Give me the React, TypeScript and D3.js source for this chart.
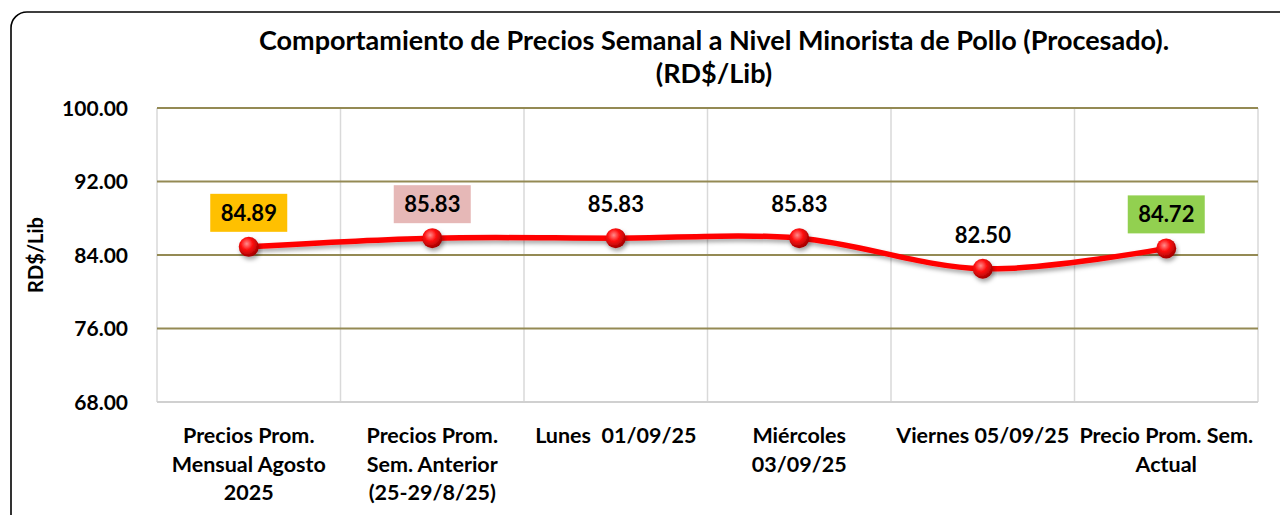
import { useEffect, useRef } from 'react';
import * as d3 from 'd3';

// Chart data
const CATEGORIES: string[][] = [
  ['Precios Prom.', 'Mensual Agosto', '2025'],
  ['Precios Prom.', 'Sem. Anterior', '(25-29/8/25)'],
  ['Lunes  01/09/25'],
  ['Miércoles', '03/09/25'],
  ['Viernes 05/09/25'],
  ['Precio Prom. Sem.', 'Actual'],
];
const PRICES = [84.89, 85.83, 85.83, 85.83, 82.5, 84.72];
const LABEL_FILLS: (string | null)[] = ['#FFC000', '#E6B8B7', null, null, null, '#92D050'];
const Y_TICKS = [68, 76, 84, 92, 100];
const TITLE_LINES = [
  'Comportamiento de Precios Semanal a Nivel Minorista de Pollo (Procesado).',
  '(RD$/Lib)',
];
const Y_TITLE = 'RD$/Lib';

const WIDTH = 1280;
const HEIGHT = 515;
const PLOT = { left: 157, right: 1258, top: 108, bottom: 402 } as const;
const FONT = 'Lato, "Open Sans", Arial, sans-serif';

export default function App() {
  const svgRef = useRef<SVGSVGElement | null>(null);

  useEffect(() => {
    const svgEl = svgRef.current;
    if (!svgEl) return;
    const svg = d3.select(svgEl);
    svg.selectAll('*').remove();

    const xScale = d3
      .scaleBand<number>()
      .domain(d3.range(CATEGORIES.length))
      .range([PLOT.left, PLOT.right]);
    const yScale = d3.scaleLinear().domain([68, 100]).range([PLOT.bottom, PLOT.top]);
    const cx = (i: number) => (xScale(i) ?? 0) + xScale.bandwidth() / 2;

    // ---- defs: marker gradient + shadow ---------------------------------
    const defs = svg.append('defs');
    const grad = defs
      .append('radialGradient')
      .attr('id', 'ball')
      .attr('cx', '40%')
      .attr('cy', '35%')
      .attr('r', '65%');
    grad.append('stop').attr('offset', '0%').attr('stop-color', '#ff8c8c');
    grad.append('stop').attr('offset', '45%').attr('stop-color', '#ff1010');
    grad.append('stop').attr('offset', '100%').attr('stop-color', '#a00000');
    const shadow = defs
      .append('filter')
      .attr('id', 'shadow')
      .attr('x', '-20%')
      .attr('y', '-20%')
      .attr('width', '140%')
      .attr('height', '160%');
    shadow
      .append('feDropShadow')
      .attr('dx', 1.5)
      .attr('dy', 3)
      .attr('stdDeviation', 2)
      .attr('flood-color', '#000')
      .attr('flood-opacity', 0.35);

    // ---- frame -----------------------------------------------------------
    svg
      .append('rect')
      .attr('x', 11)
      .attr('y', 12)
      .attr('width', 1300)
      .attr('height', 540)
      .attr('rx', 16)
      .attr('fill', '#fff')
      .attr('stroke', '#000')
      .attr('stroke-width', 1.6);

    // ---- title ------------------------------------------------------------
    svg
      .append('g')
      .selectAll('text')
      .data(TITLE_LINES)
      .join('text')
      .attr('x', 714)
      .attr('y', (_, i) => 50 + i * 33)
      .attr('text-anchor', 'middle')
      .attr('font-family', FONT)
      .attr('font-weight', 700)
      .attr('font-size', 27)
      .attr('fill', '#000')
      .text((d) => d);

    // ---- grid ---------------------------------------------------------------
    const grid = svg.append('g');
    grid
      .selectAll('line.v')
      .data(d3.range(CATEGORIES.length + 1))
      .join('line')
      .attr('class', 'v')
      .attr('x1', (i) => PLOT.left + i * xScale.bandwidth())
      .attr('x2', (i) => PLOT.left + i * xScale.bandwidth())
      .attr('y1', PLOT.top)
      .attr('y2', PLOT.bottom)
      .attr('stroke', '#d9d9d9')
      .attr('stroke-width', 1.5);
    grid
      .selectAll('line.h')
      .data(Y_TICKS.filter((t) => t > 68))
      .join('line')
      .attr('class', 'h')
      .attr('x1', PLOT.left)
      .attr('x2', PLOT.right)
      .attr('y1', (d) => yScale(d))
      .attr('y2', (d) => yScale(d))
      .attr('stroke', '#948a54')
      .attr('stroke-width', 2);
    grid
      .append('line')
      .attr('x1', PLOT.left)
      .attr('x2', PLOT.right)
      .attr('y1', PLOT.bottom)
      .attr('y2', PLOT.bottom)
      .attr('stroke', '#d0d0d0')
      .attr('stroke-width', 2);

    // ---- y axis labels ----------------------------------------------------
    svg
      .append('g')
      .selectAll('text')
      .data(Y_TICKS)
      .join('text')
      .attr('x', 128)
      .attr('y', (d) => yScale(d) + 7.5)
      .attr('text-anchor', 'end')
      .attr('font-family', FONT)
      .attr('font-weight', 700)
      .attr('font-size', 21)
      .attr('fill', '#000')
      .text((d) => d.toFixed(2));
    svg
      .append('text')
      .attr('transform', `translate(43, ${(PLOT.top + PLOT.bottom) / 2}) rotate(-90)`)
      .attr('text-anchor', 'middle')
      .attr('font-family', FONT)
      .attr('font-weight', 700)
      .attr('font-size', 20)
      .attr('fill', '#000')
      .text(Y_TITLE);

    // ---- x axis labels ----------------------------------------------------
    svg
      .append('g')
      .selectAll('text')
      .data(CATEGORIES)
      .join('text')
      .attr('x', (_, i) => cx(i))
      .attr('y', 443)
      .attr('text-anchor', 'middle')
      .attr('font-family', FONT)
      .attr('font-weight', 700)
      .attr('font-size', 21.5)
      .attr('fill', '#000')
      .style('white-space', 'pre')
      .each(function (lines) {
        const t = d3.select(this);
        lines.forEach((line, j) => {
          t.append('tspan')
            .attr('x', t.attr('x'))
            .attr('dy', j === 0 ? 0 : 28.5)
            .text(line);
        });
      });

    // ---- line + markers ---------------------------------------------------
    const line = d3
      .line<number>()
      .x((_, i) => cx(i))
      .y((d) => yScale(d))
      .curve(d3.curveCatmullRom.alpha(0.5));
    svg
      .append('path')
      .datum(PRICES)
      .attr('d', line)
      .attr('fill', 'none')
      .attr('stroke', '#ff0000')
      .attr('stroke-width', 5.5)
      .attr('stroke-linecap', 'round')
      .attr('filter', 'url(#shadow)');
    svg
      .append('g')
      .selectAll('circle')
      .data(PRICES)
      .join('circle')
      .attr('cx', (_, i) => cx(i))
      .attr('cy', (d) => yScale(d))
      .attr('r', 10)
      .attr('fill', 'url(#ball)')
      .attr('filter', 'url(#shadow)');

    // ---- data labels ------------------------------------------------------
    const labelData = PRICES.map((value, i) => ({ value, i, fill: LABEL_FILLS[i] }));
    const labels = svg
      .append('g')
      .selectAll('g')
      .data(labelData)
      .join('g')
      .attr('transform', (d) => `translate(${cx(d.i)}, ${yScale(d.value) - 34})`);
    labels
      .filter((d) => d.fill !== null)
      .append('rect')
      .attr('x', -38.5)
      .attr('y', -19)
      .attr('width', 77)
      .attr('height', 38)
      .attr('fill', (d) => d.fill ?? 'none');
    labels
      .append('text')
      .attr('y', 8)
      .attr('text-anchor', 'middle')
      .attr('font-family', FONT)
      .attr('font-weight', 700)
      .attr('font-size', 22)
      .attr('fill', '#000')
      .text((d) => d.value.toFixed(2));
  }, []);

  return (
    <svg
      ref={svgRef}
      width={WIDTH}
      height={HEIGHT}
      viewBox={`0 0 ${WIDTH} ${HEIGHT}`}
      style={{ position: 'fixed', top: 0, left: 0, display: 'block', background: '#fff' }}
    />
  );
}
